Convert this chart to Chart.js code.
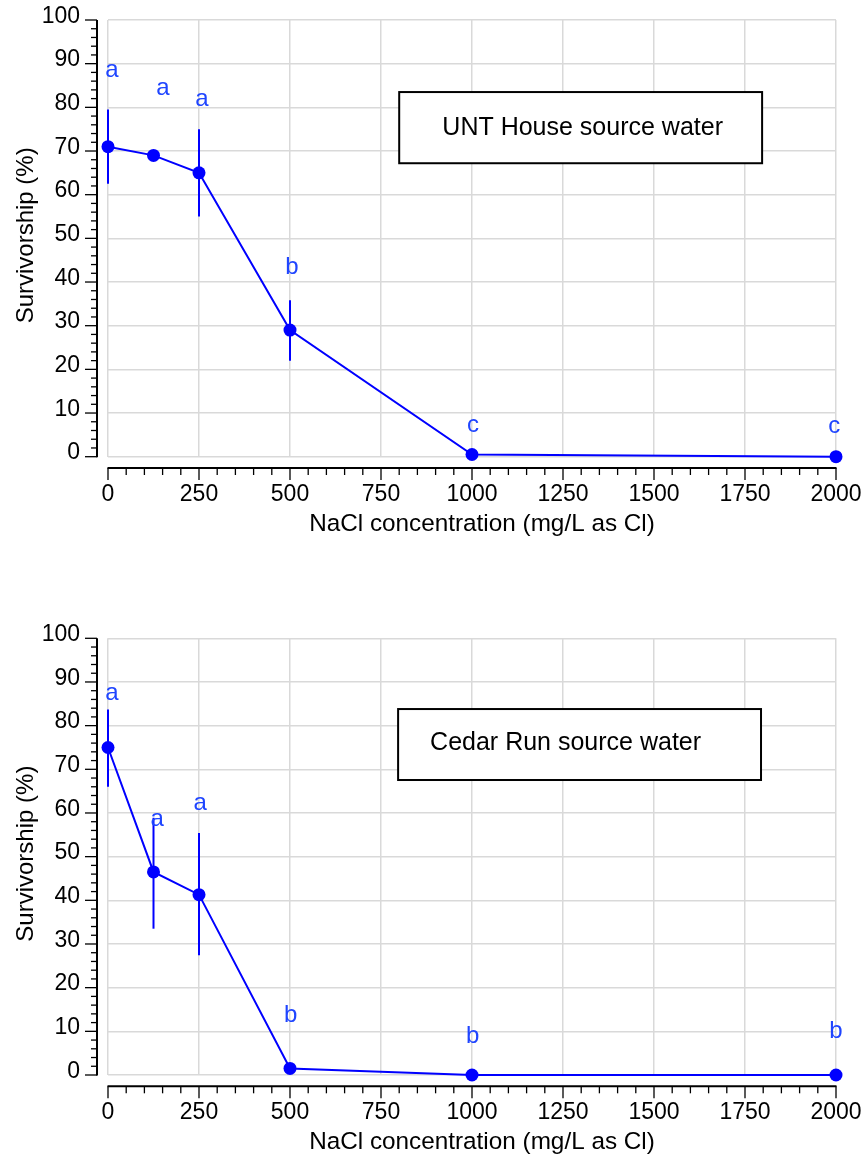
<!DOCTYPE html>
<html>
<head>
<meta charset="utf-8">
<script src="https://cdn.jsdelivr.net/npm/chart.js@4.4.1/dist/chart.umd.min.js"></script>
<style>
  body { margin: 0; background: #fff; }
  canvas { display: block; }
</style>
</head>
<body>
<canvas id="untChart" width="864" height="578"></canvas>
<canvas id="cedarChart" width="864" height="578"></canvas>
<script>
// ===================== data =====================
const nacl = [0, 125, 250, 500, 1000, 2000];
const xTickValues = [0, 250, 500, 750, 1000, 1250, 1500, 1750, 2000];
const yTickValues = [0, 10, 20, 30, 40, 50, 60, 70, 80, 90, 100];

// UNT House source water
const untSurvival = [71, 69, 65, 29, 0.5, 0];
const untErrLow = [62.5, 68.5, 55, 22, 0.5, 0];
const untErrHigh = [79.5, 69.5, 75, 35.8, 0.5, 0];
const untLetters = ['a', 'a', 'a', 'b', 'c', 'c'];
const untLetterX = [11, 151, 258, 505, 1003, 1995];
const untLetterY = [86.9, 82.8, 80.3, 41.8, 5.6, 5.4];

// Cedar Run source water
const cedarSurvival = [75, 46.5, 41.3, 1.5, 0, 0];
const cedarErrLow = [66, 33.5, 27.4, 1.5, 0, 0];
const cedarErrHigh = [83.7, 58.9, 55.4, 1.5, 0, 0];
const cedarLetters = ['a', 'a', 'a', 'b', 'b', 'b'];
const cedarLetterX = [11, 135, 253, 502, 1002, 2000];
const cedarLetterY = [85.9, 57.1, 60.7, 12.2, 7.3, 8.5];

// ===================== styles =====================
const FONT = '"Liberation Sans", Arial, Helvetica, sans-serif';
const BLUE = '#0000ff';
const LETTER_BLUE = '#1f45ff';

function line(ctx, x1, y1, x2, y2) {
  ctx.beginPath();
  ctx.moveTo(x1, y1);
  ctx.lineTo(x2, y2);
  ctx.stroke();
}

// error bars, axes, letters, text box, axis titles
const decor = {
  id: 'decor',
  beforeDatasetsDraw(chart, args, opts) {
    const { ctx, scales: { x, y } } = chart;
    ctx.save();
    ctx.strokeStyle = BLUE;
    ctx.lineWidth = 2;
    opts.low.forEach((lo, i) => {
      const px = x.getPixelForValue(nacl[i]);
      line(ctx, px, y.getPixelForValue(lo), px, y.getPixelForValue(opts.high[i]));
    });
    ctx.restore();
  },
  afterDatasetsDraw(chart, args, opts) {
    const { ctx, chartArea: area, scales: { x, y } } = chart;
    ctx.save();

    // y axis (offset from the plot)
    ctx.strokeStyle = '#000';
    const ax = area.left - 11;
    ctx.lineWidth = 2;
    line(ctx, ax, area.top, ax, area.bottom + 0.5);
    ctx.lineWidth = 1.3;
    for (let v = 0; v <= 100; v += 2) {
      const py = y.getPixelForValue(v);
      line(ctx, ax - (v % 10 === 0 ? 12 : 6), py, ax, py);
    }

    // x axis
    const ay = area.bottom + 11.3;
    ctx.lineWidth = 2;
    line(ctx, area.left - 0.5, ay, area.right + 0.5, ay);
    ctx.lineWidth = 1.3;
    for (let v = 0; v <= 2000; v += 50) {
      const px = x.getPixelForValue(v);
      line(ctx, px, ay, px, ay + (v % 250 === 0 ? 12 : 7));
    }

    // significance letters
    ctx.fillStyle = LETTER_BLUE;
    ctx.font = '24px ' + FONT;
    ctx.textAlign = 'center';
    ctx.textBaseline = 'alphabetic';
    opts.letters.forEach((t, i) => {
      ctx.fillText(t, x.getPixelForValue(opts.letterX[i]), y.getPixelForValue(opts.letterY[i]));
    });

    // text box
    const b = opts.box;
    const bx0 = x.getPixelForValue(b.x0), bx1 = x.getPixelForValue(b.x1);
    const by0 = y.getPixelForValue(b.y0), by1 = y.getPixelForValue(b.y1);
    ctx.fillStyle = '#fff';
    ctx.fillRect(bx0, by0, bx1 - bx0, by1 - by0);
    ctx.strokeStyle = '#000';
    ctx.lineWidth = 2;
    ctx.strokeRect(bx0, by0, bx1 - bx0, by1 - by0);
    ctx.fillStyle = '#000';
    ctx.font = '25px ' + FONT;
    if (b.align === 'center') {
      ctx.textAlign = 'center';
      ctx.fillText(b.text, (bx0 + bx1) / 2 + 2, by0 + 43);
    } else {
      ctx.textAlign = 'left';
      ctx.fillText(b.text, bx0 + 32, by0 + 41);
    }

    // axis titles
    ctx.font = '24.3px ' + FONT;
    ctx.textAlign = 'center';
    ctx.fillText('NaCl concentration (mg/L as Cl)', (area.left + area.right) / 2 + 10, area.bottom + 74);
    ctx.translate(33, (area.top + area.bottom) / 2 - 3);
    ctx.rotate(-Math.PI / 2);
    ctx.font = '24px ' + FONT;
    ctx.fillText('Survivorship (%)', 0, 0);

    ctx.restore();
  }
};

function buildChart(id, values, low, high, letters, letterX, letterY, box, padTop, xAxisHeight) {
  const ctx = document.getElementById(id).getContext('2d');
  return new Chart(ctx, {
    type: 'line',
    data: {
      datasets: [{
        data: nacl.map((v, i) => ({ x: v, y: values[i] })),
        borderColor: BLUE,
        backgroundColor: BLUE,
        borderWidth: 2,
        pointRadius: 6.5,
        pointHoverRadius: 6.5,
        pointBorderWidth: 0,
        tension: 0,
        clip: false
      }]
    },
    options: {
      responsive: false,
      animation: false,
      events: [],
      layout: { padding: { top: padTop, right: 28, left: 0, bottom: 0 } },
      plugins: {
        legend: { display: false },
        tooltip: { enabled: false },
        decor: { low, high, letters, letterX, letterY, box }
      },
      scales: {
        x: {
          type: 'linear',
          min: 0,
          max: 2000,
          afterBuildTicks: s => { s.ticks = xTickValues.map(v => ({ value: v })); },
          afterFit: s => { s.height = xAxisHeight; s.paddingLeft = 0; s.paddingRight = 0; },
          border: { display: false },
          grid: { color: '#d9d9d9', lineWidth: 1.5, drawTicks: false },
          ticks: {
            color: '#000', padding: 24, maxRotation: 0, autoSkip: false,
            callback: v => String(v),
            font: { family: FONT, size: 23 }
          }
        },
        y: {
          min: 0,
          max: 100,
          afterBuildTicks: s => { s.ticks = yTickValues.map(v => ({ value: v })); },
          afterFit: s => { s.width = 108; s.paddingTop = 0; s.paddingBottom = 0; },
          border: { display: false },
          grid: { color: '#d9d9d9', lineWidth: 1.5, drawTicks: false },
          ticks: {
            color: '#000', padding: 28, labelOffset: -3.7,
            callback: v => String(v),
            font: { family: FONT, size: 23 }
          }
        }
      }
    },
    plugins: [decor]
  });
}

// ===================== UNT House chart =====================
const untChart = buildChart('untChart', untSurvival, untErrLow, untErrHigh,
  untLetters, untLetterX, untLetterY,
  { x0: 800, x1: 1797, y0: 83.5, y1: 67.2, text: 'UNT House source water', align: 'center' },
  20, 121.3);

// ===================== Cedar Run chart =====================
const cedarChart = buildChart('cedarChart', cedarSurvival, cedarErrLow, cedarErrHigh,
  cedarLetters, cedarLetterX, cedarLetterY,
  { x0: 797, x1: 1794, y0: 83.8, y1: 67.55, text: 'Cedar Run source water', align: 'left' },
  60.3, 81);
</script>
</body>
</html>
